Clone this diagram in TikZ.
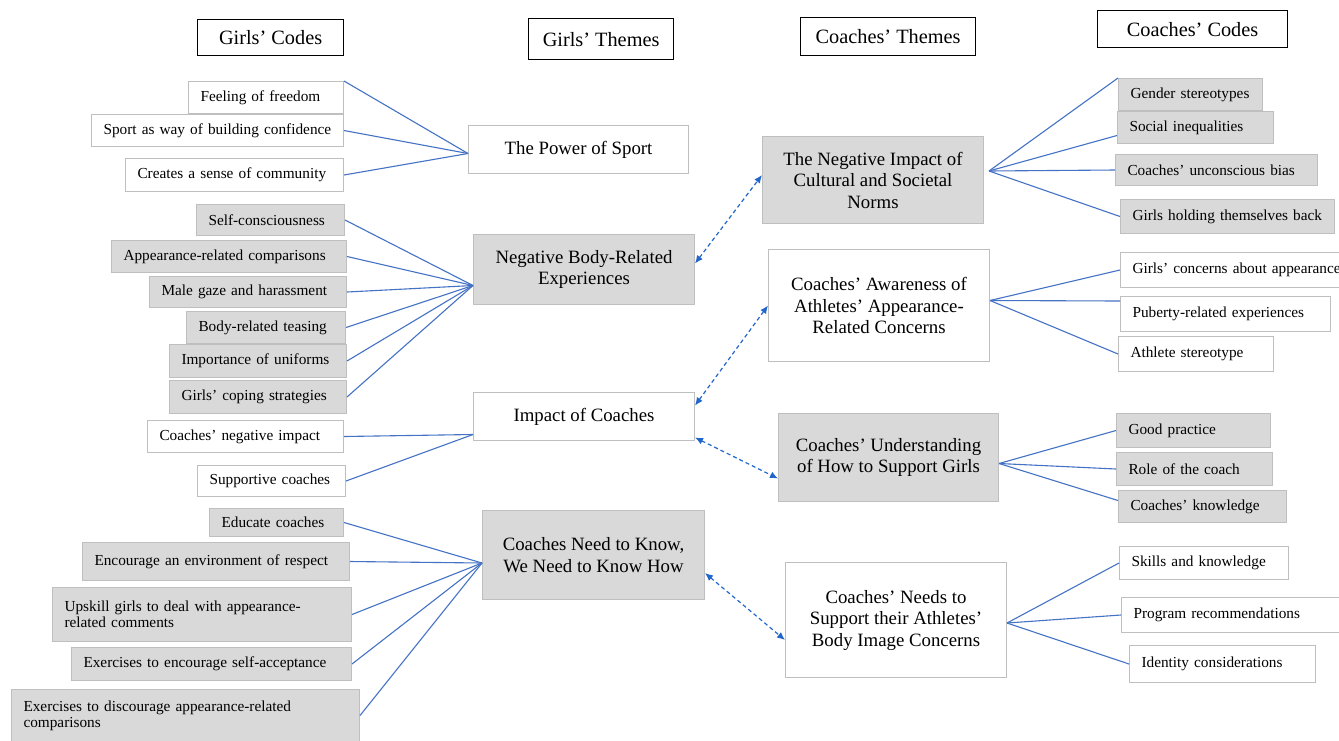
\documentclass[tikz,border=0pt]{standalone}
\usepackage{fontspec}
\setmainfont{Liberation Serif}
\usetikzlibrary{arrows.meta}
\definecolor{boxgray}{HTML}{BFBFBF}
\definecolor{fillgray}{HTML}{D9D9D9}
\definecolor{linkblue}{HTML}{4472C4}
\definecolor{arrowblue}{HTML}{2266CC}
\newcommand\codesize{\fontsize{15.3}{16}\selectfont}
\newcommand\themesize{\fontsize{18.8}{21.5}\selectfont}
\newcommand\headsize{\fontsize{20.3}{24}\selectfont}
\hyphenpenalty=10000

\begin{document}
\begin{tikzpicture}[x=1pt,y=-1pt,
	headbox/.style={draw=black, line width=1.2pt, font=\headsize, inner sep=0pt, anchor=north west},
	codebox/.style={draw=boxgray, line width=1pt, fill=white, font=\codesize, align=left, inner xsep=12pt, inner ysep=0pt, anchor=north west},
	themebox/.style={draw=boxgray, line width=1pt, fill=white, font=\themesize, align=center, inner sep=0pt, anchor=north west},
	greyfill/.style={fill=fillgray},
	link/.style={linkblue, line width=1.1pt},
	tie/.style={arrowblue, line width=1.2pt, dash pattern=on 4pt off 3pt, {Latex[length=8pt,width=7pt]}-{Latex[length=8pt,width=7pt]}}]
	\fill[white] (0,0) rectangle (1339,740);
	\useasboundingbox (0,0) rectangle (1339,740);
	% column headers
	\node[headbox, minimum width=146pt, minimum height=36pt] (gc) at (197,19) {Girls’ Codes};
	\node[headbox, minimum width=145pt, minimum height=41pt] (gt) at (528,18) {Girls’ Themes};
	\node[headbox, minimum width=175pt, minimum height=38pt] (ct) at (800,17) {Coaches’ Themes};
	\node[headbox, minimum width=190pt, minimum height=37pt] (cc) at (1097,10) {Coaches’ Codes};
	% girls' codes
	\node[codebox, text width=131pt, minimum height=32pt] (free) at (188,81) {Feeling of freedom};
	\node[codebox, text width=228pt, minimum height=32pt] (conf) at (91,114) {Sport as way of building confidence};
	\node[codebox, text width=194pt, minimum height=33pt] (comm) at (125,158) {Creates a sense of community};
	\node[codebox, greyfill, text width=124pt, minimum height=31pt] (selfc) at (196,204) {Self-consciousness};
	\node[codebox, greyfill, text width=211pt, minimum height=32pt] (compar) at (111,240) {Appearance-related comparisons};
	\node[codebox, greyfill, text width=173pt, minimum height=31pt] (gaze) at (149,276) {Male gaze and harassment};
	\node[codebox, greyfill, text width=135pt, minimum height=32pt] (tease) at (186,311) {Body-related teasing};
	\node[codebox, greyfill, text width=153pt, minimum height=33pt] (unif) at (169,344) {Importance of uniforms};
	\node[codebox, greyfill, text width=153pt, minimum height=33pt] (coping) at (169,380) {Girls’ coping strategies};
	\node[codebox, text width=172pt, minimum height=32pt] (negimp) at (147,420) {Coaches’ negative impact};
	\node[codebox, text width=124pt, minimum height=31pt] (supp) at (197,465) {Supportive coaches};
	\node[codebox, greyfill, text width=110pt, minimum height=28pt] (educ) at (209,508) {Educate coaches};
	\node[codebox, greyfill, text width=243pt, minimum height=38pt] (respect) at (82,542) {Encourage an environment of respect};
	\node[codebox, greyfill, text width=275pt, minimum height=54pt] (upskill) at (52,587) {Upskill girls to deal with appearance-\\related comments};
	\node[codebox, greyfill, text width=256pt, minimum height=33pt] (selfacc) at (71,647) {Exercises to encourage self-acceptance};
	\node[codebox, greyfill, text width=324pt, minimum height=52pt] (discour) at (11,689) {Exercises to discourage appearance-related\\comparisons};
	% girls' themes
	\node[themebox, minimum width=220pt, minimum height=48pt] (ps) at (468,125) {The Power of Sport};
	\node[themebox, greyfill, minimum width=221pt, minimum height=70pt] (nb) at (473,234) {Negative Body-Related\\Experiences};
	\node[themebox, minimum width=221pt, minimum height=48pt] (ic) at (473,392) {Impact of Coaches};
	\node[themebox, greyfill, minimum width=222pt, minimum height=89pt] (cn) at (482,510) {Coaches Need to Know,\\We Need to Know How};
	% coaches' themes
	\node[themebox, greyfill, minimum width=221pt, minimum height=87pt] (ni) at (762,136) {The Negative Impact of\\Cultural and Societal\\Norms};
	\node[themebox, minimum width=221pt, minimum height=112pt] (aw) at (768,249) {Coaches’ Awareness of\\Athletes’ Appearance-\\Related Concerns};
	\node[themebox, greyfill, minimum width=220pt, minimum height=88pt] (un) at (778,413) {Coaches’ Understanding\\of How to Support Girls};
	\node[themebox, minimum width=221pt, minimum height=115pt] (ne) at (785,562) {Coaches’ Needs to\\Support their Athletes’\\Body Image Concerns};
	% coaches' codes
	\node[codebox, greyfill, text width=120pt, minimum height=32pt] (gend) at (1118,78) {Gender stereotypes};
	\node[codebox, greyfill, text width=132pt, minimum height=32pt] (ineq) at (1117,111) {Social inequalities};
	\node[codebox, greyfill, text width=178pt, minimum height=31pt] (bias) at (1115,154) {Coaches’ unconscious bias};
	\node[codebox, greyfill, text width=190pt, minimum height=34pt] (back) at (1120,199) {Girls holding themselves back};
	\node[codebox, text width=216pt, minimum height=35pt] (conc) at (1120,252) {Girls’ concerns about appearance};
	\node[codebox, text width=186pt, minimum height=35pt] (pub) at (1120,296) {Puberty-related experiences};
	\node[codebox, text width=131pt, minimum height=35pt] (ster) at (1118,336) {Athlete stereotype};
	\node[codebox, greyfill, text width=130pt, minimum height=34pt] (good) at (1116,413) {Good practice};
	\node[codebox, greyfill, text width=132pt, minimum height=33pt] (role) at (1116,452) {Role of the coach};
	\node[codebox, greyfill, text width=144pt, minimum height=32pt] (know) at (1118,490) {Coaches’ knowledge};
	\node[codebox, text width=145pt, minimum height=33pt] (skill) at (1119,546) {Skills and knowledge};
	\node[codebox, text width=200pt, minimum height=35pt] (prog) at (1121,597) {Program recommendations};
	\node[codebox, text width=162pt, minimum height=37pt] (ident) at (1129,645) {Identity considerations};
	% meeting points of the code lines
	\coordinate (psin) at ([yshift=-4pt]ps.west);
	\coordinate (nbin) at ([yshift=-16pt]nb.west);
	\coordinate (icin) at ([yshift=-18pt]ic.west);
	\coordinate (cnin) at ([yshift=-8pt]cn.west);
	\coordinate (niout) at ([xshift=5pt,yshift=9pt]ni.east);
	\coordinate (awout) at ([yshift=5pt]aw.east);
	\coordinate (unout) at ([yshift=-6pt]un.east);
	\coordinate (neout) at ([yshift=-3pt]ne.east);
	\draw[link] (free.north east) -- (psin);
	\foreach \c in {conf,comm} \draw[link] (\c.east) -- (psin);
	\foreach \c in {selfc,compar,gaze,tease,unif,coping} \draw[link] (\c.east) -- (nbin);
	\foreach \c in {negimp,supp} \draw[link] (\c.east) -- (icin);
	\foreach \c in {educ,respect,upskill,selfacc,discour} \draw[link] (\c.east) -- (cnin);
	\draw[link] (niout) -- (gend.north west);
	\draw[link] (niout) -- ([yshift=-8pt]ineq.west);
	\foreach \c in {bias,back} \draw[link] (niout) -- (\c.west);
	\draw[link] (awout) -- (conc.west);
	\draw[link] (awout) -- ([yshift=13pt]pub.west);
	\draw[link] (awout) -- (ster.west);
	\foreach \c in {good,role} \draw[link] (unout) -- (\c.west);
	\draw[link] (unout) -- ([yshift=6pt]know.west);
	\foreach \c in {skill,prog,ident} \draw[link] (neout) -- (\c.west);
	% links between the two sets of themes
	\draw[tie] ([yshift=6pt]nb.east) -- ([yshift=5pt]ni.west);
	\draw[tie] ([yshift=11pt]ic.east) -- (aw.west);
	\draw[tie] ([yshift=-21pt]ic.east) -- ([yshift=-21pt]un.west);
	\draw[tie] ([yshift=-18pt]cn.east) -- ([yshift=-20pt]ne.west);
\end{tikzpicture}
\end{document}
